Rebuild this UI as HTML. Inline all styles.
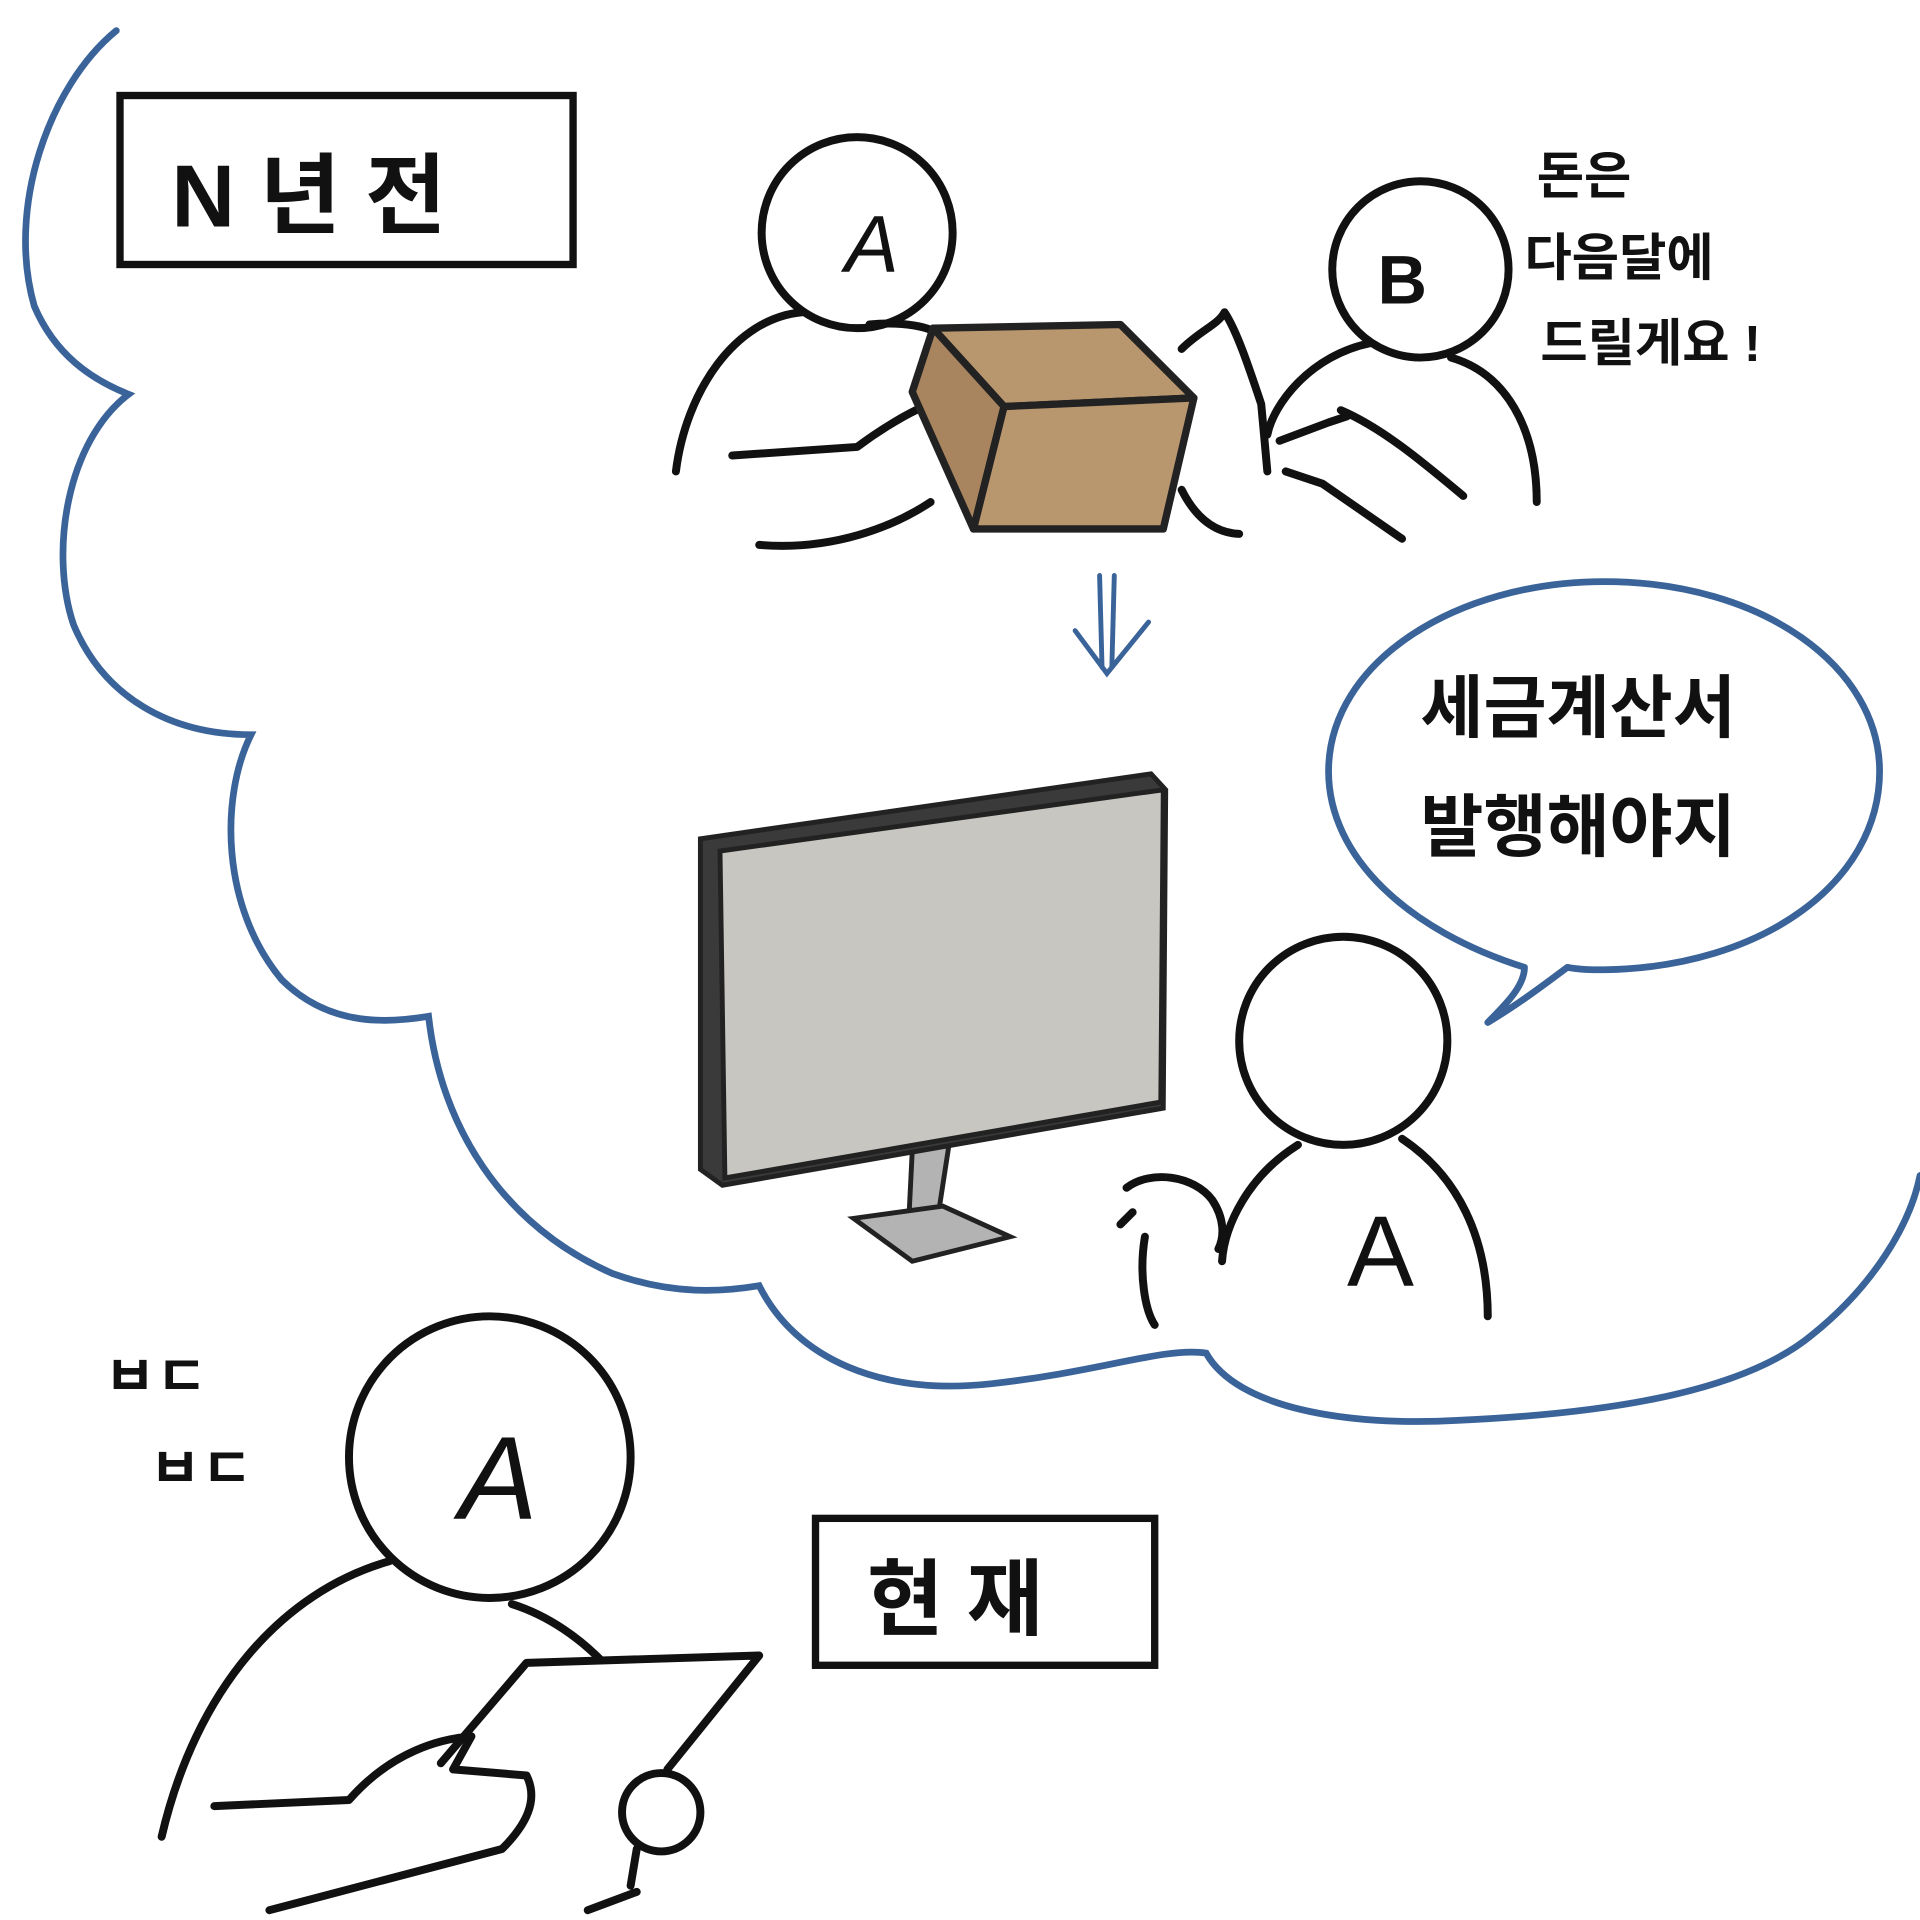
<!DOCTYPE html>
<html><head><meta charset="utf-8">
<style>
html,body{margin:0;padding:0;background:#fff;}
svg{display:block;}
text{font-family:"Liberation Sans","Noto Sans CJK KR",sans-serif;fill:#111;}
</style></head>
<body>
<svg width="1920" height="1920" viewBox="0 0 1568 1568" xmlns="http://www.w3.org/2000/svg">
<rect width="1568" height="1568" fill="#fff"/>
<!-- cloud -->
<path d="M95,25 C40,70 5,170 28,250 C45,290 75,310 105,322 C55,360 40,450 60,510 C85,570 140,600 205,600 C180,650 180,740 230,800 C270,840 320,835 350,830 C360,920 410,1000 500,1040 C550,1058 590,1055 620,1050 C650,1110 720,1140 810,1130 C900,1120 950,1100 985,1105 C1010,1150 1100,1165 1190,1160 C1300,1155 1420,1140 1480,1090 C1530,1050 1560,1000 1568,960"
 fill="none" stroke="#3a6499" stroke-width="5.5" stroke-linecap="round"/>
<!-- speech bubble -->
<path d="M1245,790 C1150,760 1085,700 1085,630 C1085,540 1190,475 1310,475 C1440,475 1535,545 1535,630 C1535,720 1440,790 1310,792 C1300,792 1290,792 1280,790 C1260,805 1240,820 1215,835 C1230,820 1245,805 1245,790 Z"
 fill="none" stroke="#3a6499" stroke-width="5.5" stroke-linejoin="round"/>
<!-- arrow -->
<g stroke="#3a6499" stroke-width="4" fill="none" stroke-linecap="round">
<path d="M898,470 L900,545 M910,470 L908,545 M878,515 L904,550 L938,508"/>
</g>
<!-- labels boxes -->
<rect x="98" y="78" width="370" height="138" fill="none" stroke="#111" stroke-width="6"/>
<text x="140" y="185" font-size="72" font-weight="bold">N 년 전</text>
<rect x="666" y="1240" width="277" height="120" fill="none" stroke="#111" stroke-width="6"/>
<text x="708" y="1330" font-size="68" font-weight="bold">현 재</text>
<!-- texts -->
<text x="1255" y="158" font-size="42" font-weight="bold">돈은</text>
<text x="1245" y="225" font-size="42" font-weight="bold">다음달에</text>
<text x="1258" y="295" font-size="42" font-weight="bold">드릴게요 !</text>
<text x="1160" y="598" font-size="56" font-weight="bold">세금계산서</text>
<text x="1160" y="695" font-size="56" font-weight="bold">발행해야지</text>
<text x="85" y="1140" font-size="46" font-weight="bold">ㅂㄷ</text>
<text x="122" y="1215" font-size="46" font-weight="bold">ㅂㄷ</text>
<g fill="none" stroke="#111" stroke-width="6.5" stroke-linecap="round" stroke-linejoin="round">
<circle cx="700" cy="190" r="78"/>
<path d="M655,255 C600,260 560,320 552,385"/>
<path d="M710,265 C740,262 760,268 765,272"/>
<path d="M598,372 L700,365 C720,350 745,335 760,330 L780,350 L770,360 L795,375 L780,385"/>
<path d="M620,445 C680,450 730,430 760,410"/>
<circle cx="1160" cy="220" r="72"/>
<path d="M1120,280 C1070,290 1040,330 1035,355"/>
<path d="M1185,292 C1230,305 1255,350 1255,410"/>
<path d="M1095,335 C1130,350 1165,380 1195,405"/>
<path d="M1045,360 L1085,345 L1100,340 M1050,385 L1080,395 L1145,440"/>
<path d="M965,285 C980,270 995,265 1000,255 C1010,270 1020,300 1030,330 L1035,385"/>
<path d="M965,400 C975,420 990,435 1012,436"/>
<circle cx="1097" cy="850" r="85"/>
<path d="M1060,935 C1020,960 1000,1000 998,1030"/>
<path d="M1145,930 C1190,960 1215,1010 1215,1075"/>
<path d="M920,970 C940,955 975,960 990,980 C1000,995 1000,1010 995,1020"/>
<path d="M915,1000 L925,990 M935,1010 C930,1040 935,1070 943,1082"/>
<circle cx="400" cy="1190" r="115"/>
<path d="M318,1275 C230,1300 160,1380 132,1500"/>
<path d="M418,1310 C450,1320 475,1340 490,1355"/>
<path d="M175,1475 L285,1470 C320,1430 360,1420 385,1418 L370,1445 L430,1450 C440,1470 430,1490 410,1510 L220,1560"/>
<path d="M360,1440 L430,1358 L620,1352 L545,1445"/>
<circle cx="540" cy="1480" r="32"/>
<path d="M520,1510 L515,1540 M480,1560 L520,1545"/>
</g>
<text x="690" y="222" font-size="66" font-style="italic">A</text>
<text x="1125" y="248" font-size="56" font-weight="bold">B</text>
<text x="1100" y="1050" font-size="82">A</text>
<text x="375" y="1240" font-size="96" font-style="italic">A</text>
<g stroke="#222" stroke-width="6" stroke-linejoin="round">
<polygon points="762,268 915,265 975,325 820,332" fill="#b8966e"/>
<polygon points="762,268 820,332 795,432 745,320" fill="#a8855f"/>
<polygon points="820,332 975,325 950,432 795,432" fill="#b8966e"/>
</g>
<polygon points="745,940 775,935 765,1000 742,1000" fill="#b3b3b3" stroke="#222" stroke-width="4"/>
<polygon points="697,995 770,985 825,1010 745,1030" fill="#b3b3b3" stroke="#222" stroke-width="4"/>
<polygon points="572,685 940,632 952,645 950,905 590,968 572,955" fill="#3a3a3a" stroke="#222" stroke-width="4"/>
<polygon points="588,695 950,645 948,900 592,962" fill="#c8c6c1" stroke="#222" stroke-width="4"/>
</svg>
</body></html>
